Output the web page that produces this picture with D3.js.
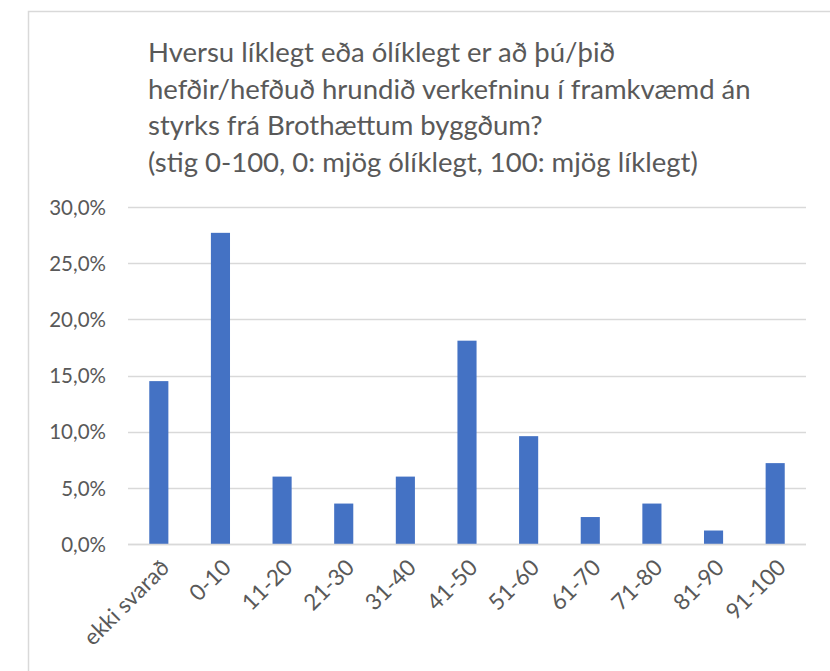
<!DOCTYPE html>
<html>
<head>
<meta charset="utf-8">
<script src="https://cdn.jsdelivr.net/npm/d3@7"></script>
<style>
  html, body { margin: 0; padding: 0; background: #fff; }
  svg { display: block; }
</style>
</head>
<body>
<svg id="chart" width="830" height="671"></svg>
<script>
const categories = ["ekki svarað", "0-10", "11-20", "21-30", "31-40", "41-50", "51-60", "61-70", "71-80", "81-90", "91-100"];
const values = [14.5, 27.7, 6.0, 3.6, 6.0, 18.1, 9.6, 2.4, 3.6, 1.2, 7.2];
const yTicks = [0, 5, 10, 15, 20, 25, 30];
const titleLines = [
  "Hversu líklegt eða ólíklegt er að þú/þið",
  "hefðir/hefðuð hrundið verkefninu í framkvæmd án",
  "styrks frá Brothættum byggðum?",
  "(stig 0-100, 0: mjög ólíklegt, 100: mjög líklegt)"
];

const svg = d3.select("#chart");
const font = "Lato, 'Open Sans', sans-serif";
const textColor = "#595959";
const gridColor = "#d9d9d9";

// outer chart border
svg.append("path")
  .attr("d", "M28.5,700 V11.5 H840")
  .attr("fill", "none").attr("stroke", gridColor).attr("stroke-width", 1.5);

// title
const title = svg.append("text")
  .attr("font-family", font).attr("font-size", 27.5).attr("fill", textColor);
titleLines.forEach((t, i) => {
  title.append("tspan").attr("x", 148).attr("y", 62 + i * 36.5).text(t);
});

const plot = { left: 128, right: 806, top: 207, bottom: 544 };
const x = d3.scaleBand().domain(categories).range([plot.left, plot.right]).paddingInner(0.69).paddingOuter(0.345);
const y = d3.scaleLinear().domain([0, 30]).range([plot.bottom, plot.top]);

// gridlines
svg.append("g")
  .selectAll("line").data(yTicks).join("line")
  .attr("x1", plot.left).attr("x2", plot.right)
  .attr("y1", d => Math.round(y(d)) + 0.5).attr("y2", d => Math.round(y(d)) + 0.5)
  .attr("stroke", gridColor).attr("stroke-width", 1.3);

// y axis labels
const yAxis = d3.axisLeft(y).tickValues(yTicks)
  .tickFormat(d => d3.format(".1f")(d).replace(".", ",") + "%")
  .tickSize(0).tickPadding(0);
const yg = svg.append("g").attr("transform", `translate(${106},0)`).call(yAxis);
yg.select(".domain").remove();
yg.selectAll("text").attr("font-family", font).attr("font-size", 20.5).attr("fill", textColor).attr("dy", "0.35em");

// bars
svg.append("g").selectAll("rect").data(values).join("rect")
  .attr("x", (d, i) => x(categories[i]))
  .attr("width", x.bandwidth())
  .attr("y", d => y(d))
  .attr("height", d => y(0) - y(d))
  .attr("fill", "#4472C4");

// x axis baseline redraw on top
svg.append("line")
  .attr("x1", plot.left).attr("x2", plot.right)
  .attr("y1", Math.round(y(0)) + 0.5).attr("y2", Math.round(y(0)) + 0.5)
  .attr("stroke", gridColor).attr("stroke-width", 1.3);

// x axis labels
const xAxis = d3.axisBottom(x).tickSize(0).tickPadding(0);
const xg = svg.append("g").attr("transform", `translate(0,${plot.bottom})`).call(xAxis);
xg.select(".domain").remove();
xg.selectAll("text")
  .attr("font-family", font).attr("font-size", 22.5).attr("fill", textColor)
  .attr("text-anchor", "end")
  .attr("dy", null).attr("y", null)
  .attr("transform", "translate(12,25) rotate(-45)");
</script>
</body>
</html>
